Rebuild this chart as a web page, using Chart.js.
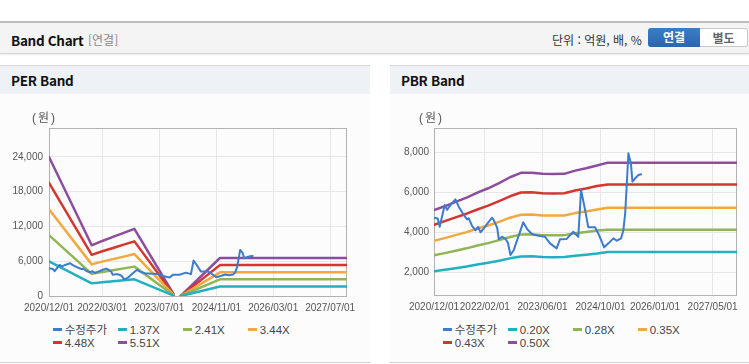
<!DOCTYPE html>
<html lang="ko">
<head>
<meta charset="utf-8">
<script src="https://cdn.jsdelivr.net/npm/chart.js@4.4.1/dist/chart.umd.min.js"></script>
<style>
body { margin: 0; width: 749px; height: 364px; background: #fff; position: relative; overflow: hidden;
  font-family: "Liberation Sans", "Noto Sans CJK KR", sans-serif; }
.topbar { position: absolute; left: 0; top: 21px; width: 749px; height: 30px; background: #f4f4f4;
  border-top: 2px solid #bdbdbd; border-bottom: 1px solid #d4d4d4; box-shadow: 0 1px 2px rgba(0,0,0,.08); }
.topbar .ttl { position: absolute; left: 11px; top: 7px; font: bold 13.5px "Noto Sans CJK KR", sans-serif; color: #111; letter-spacing: -0.3px; }
.topbar .sub { position: absolute; left: 88px; top: 8px; font: 12px "Noto Sans CJK KR", sans-serif; color: #8a8a8a; }
.topbar .unit { position: absolute; left: 552px; top: 8px; font: 12px "Noto Sans CJK KR", sans-serif; color: #333; }
.btn { position: absolute; top: 5px; height: 19px; line-height: 19px; text-align: center; font: bold 12px "Noto Sans CJK KR", sans-serif; box-sizing: border-box; }
.btn.on { left: 648px; width: 52px; color: #fff; background: linear-gradient(#3b7dc8, #2a66ad); border-radius: 3px 0 0 3px; }
.btn.off { left: 700px; width: 48px; color: #666; background: #fff; border: 1px solid #c9c9c9; border-left: none; border-radius: 0 3px 3px 0; line-height: 17px; }
.panel { position: absolute; top: 65px; height: 296px; background: #fcfcfc; border-top: 1px solid #d9d9d9; border-bottom: 1px solid #d0d0d0; }
.panel .hd { height: 28px; background: #eef1f6; font: bold 13.5px "Noto Sans CJK KR", sans-serif; color: #111; line-height: 28px; padding-left: 11px; letter-spacing: -0.3px; }
.unitlbl { position: absolute; top: 108px; z-index: 3; font: 12px "Liberation Sans", "Noto Sans CJK KR", sans-serif; color: #555; letter-spacing: 2px; white-space: nowrap; }
canvas.c { position: absolute; top: 100px; z-index: 1; }
.legend { position: absolute; top: 324px; height: 28px; font: 11.5px "Liberation Sans", "Noto Sans CJK KR", sans-serif; color: #444; }
.legend .it { position: absolute; white-space: nowrap; height: 13px; line-height: 13px; }
.legend .mk { display: inline-block; width: 9px; height: 3px; vertical-align: middle; margin-right: 3px; position: relative; top: -1px; }
</style>
</head>
<body>
<div class="topbar">
  <span class="ttl">Band Chart</span><span class="sub">[연결]</span>
  <span class="unit">단위 : 억원, 배, %</span>
  <div class="btn on">연결</div><div class="btn off">별도</div>
</div>
<div class="panel" style="left:0;width:370px;"><div class="hd">PER Band</div></div>
<div class="panel" style="left:390px;width:359px;"><div class="hd">PBR Band</div></div>
<div class="unitlbl" style="left:32px;">(원)</div>
<div class="unitlbl" style="left:419px;">(원)</div>
<canvas class="c" id="perChart" width="370" height="220" style="left:0;"></canvas>
<canvas class="c" id="pbrChart" width="359" height="220" style="left:390px;"></canvas>
<div class="legend" id="perLegend" style="left:0;width:370px;"></div>
<div class="legend" id="pbrLegend" style="left:390px;width:359px;"></div>
<script>
// --- 데이터 ---
const baseDate = '2020-12-01';
const endDate = '2027-11-22';

const priceDates = ['2020-12-01','2021-01-01','2021-01-18','2021-02-06','2021-03-01','2021-03-21','2021-04-18','2021-05-30',
  '2021-06-27','2021-08-08','2021-09-05','2021-09-19','2021-10-17','2021-11-15','2021-12-07','2021-12-27',
  '2022-01-24','2022-03-07','2022-04-04','2022-04-18','2022-05-16','2022-05-30','2022-06-27','2022-07-25',
  '2022-08-14','2022-09-05','2022-10-03','2022-11-15','2022-12-21','2023-01-24','2023-03-07','2023-03-29',
  '2023-05-10','2023-06-22','2023-08-03','2023-09-28','2023-10-26','2023-12-21','2024-02-15','2024-03-28',
  '2024-04-20','2024-05-24','2024-06-20','2024-08-16','2024-09-13','2024-10-05','2024-10-31','2024-12-06',
  '2025-01-17','2025-02-15','2025-03-23','2025-04-11','2025-04-26','2025-05-10','2025-05-23','2025-06-13',
  '2025-06-26','2025-07-19','2025-08-16','2025-09-07'];
const priceValues = [4730,4690,4280,4780,5360,5120,5360,5650,
  5280,4870,4650,4700,4320,4100,4270,4000,
  4200,4530,4730,4600,4230,3650,3780,3670,
  3480,2870,3120,3870,4500,4150,3900,3870,
  3820,3780,3450,3200,3650,3670,4030,3780,
  6120,5120,4250,4250,3930,3620,3250,3450,
  3700,3580,3700,4120,4950,6450,7950,7450,
  6530,6700,6860,6900];

// PER 밴드
const perBandDates = ['2020-12-01','2021-12-01','2022-03-01','2022-06-01','2022-09-01','2022-12-01',
  '2023-11-01','2023-12-01','2024-01-01','2024-12-01','2027-11-22'];
const perLabels = ['1.37X','2.41X','3.44X','4.48X','5.51X'];
const per137 = [5970,2180,2360,2540,2710,2880,75,null,0,1630,1630];
const per241 = [10500,3830,4150,4460,4770,5070,130,null,0,2870,2870];
const per344 = [14980,5460,5930,6370,6800,7240,190,null,0,4090,4090];
const per448 = [19520,7110,7720,8290,8860,9430,245,null,0,5330,5330];
const per551 = [24000,8750,9500,10200,10900,11600,300,null,0,6560,6560];
const perYTicks = [0,6000,12000,18000,24000];
const perXTicks = ['2020-12-01','2022-03-01','2023-07-01','2024-11-01','2026-03-01','2027-07-01'];

// PBR 밴드
const pbrBandDates = ['2020-12-01','2021-03-01','2021-06-01','2021-09-01','2021-12-01','2022-03-01','2022-06-01',
  '2022-09-01','2022-12-01','2023-03-01','2023-06-01','2023-09-01','2023-12-01','2024-03-01','2024-06-01',
  '2024-09-01','2024-12-01','2027-11-22'];
const pbrLabels = ['0.20X','0.28X','0.35X','0.43X','0.50X'];
const pbr020 = [2060,2130,2210,2290,2390,2480,2580,2700,2790,2800,2770,2760,2770,2830,2880,2940,3020,3020];
const pbr028 = [2850,2960,3080,3200,3340,3460,3610,3770,3890,3900,3860,3860,3860,3950,4020,4090,4130,4130];
const pbr035 = [3580,3710,3860,4010,4190,4340,4520,4730,4880,4890,4840,4840,4840,4960,5040,5140,5230,5230];
const pbr043 = [4380,4560,4750,4930,5140,5330,5560,5800,5990,6000,5950,5940,5950,6090,6190,6310,6390,6390];
const pbr050 = [5115,5300,5520,5730,5980,6200,6460,6750,6970,6980,6920,6910,6920,7080,7200,7340,7480,7480];
const pbrYTicks = [2000,4000,6000,8000];
const pbrXTicks = ['2020-12-01','2022-02-01','2023-06-01','2024-10-01','2026-01-01','2027-05-01'];

const priceLabel = '수정주가';
const priceColor = '#3d7ccc';
const bandColors = ['#22b0c1', '#91b556', '#f1a93d', '#d2362f', '#8d4d9f'];

// --- 유틸 ---
const toDay = (s) => {
  const [y, m, d] = s.split('-').map(Number);
  const [by, bm, bd] = baseDate.split('-').map(Number);
  return Math.round((Date.UTC(y, m - 1, d) - Date.UTC(by, bm - 1, bd)) / 864e5);
};
const fmtDay = (v) => {
  const [by, bm, bd] = baseDate.split('-').map(Number);
  const d = new Date(Date.UTC(by, bm - 1, bd) + v * 864e5);
  const p = (n) => String(n).padStart(2, '0');
  return `${d.getUTCFullYear()}/${p(d.getUTCMonth() + 1)}/${p(d.getUTCDate())}`;
};
const toPoints = (dates, vals) => dates.map((d, i) => ({ x: toDay(d), y: vals[i] }));

Chart.defaults.font.family = '"Liberation Sans", "Noto Sans CJK KR", sans-serif';
Chart.defaults.font.size = 10;
Chart.defaults.color = '#555';

// 플롯 테두리
const framePlugin = {
  id: 'frame',
  beforeDatasetsDraw(chart) {
    const { ctx, chartArea: a } = chart;
    ctx.save();
    ctx.strokeStyle = '#b2b2b2';
    ctx.lineWidth = 1;
    ctx.strokeRect(Math.round(a.left) + 0.5, Math.round(a.top) + 0.5, Math.round(a.right - a.left) - 1, Math.round(a.bottom - a.top));
    ctx.restore();
  }
};

function makeBandChart(id, cfg) {
  const datasets = [{
    label: priceLabel, data: toPoints(priceDates, priceValues),
    borderColor: priceColor, backgroundColor: priceColor, borderWidth: 2
  }];
  cfg.bands.forEach((vals, i) => {
    datasets.push({
      label: cfg.labels[i], data: toPoints(cfg.bandDates, vals),
      borderColor: bandColors[i], backgroundColor: bandColors[i], borderWidth: 2.5
    });
  });

  const chart = new Chart(document.getElementById(id), {
    type: 'line',
    data: { datasets },
    options: {
      responsive: false,
      animation: false,
      spanGaps: false,
      elements: { point: { radius: 0 }, line: { tension: 0, borderCapStyle: 'round', borderJoinStyle: 'round' } },
      layout: { padding: { top: 28, right: cfg.padRight, left: 0, bottom: 0 } },
      plugins: { legend: { display: false }, tooltip: { enabled: false } },
      scales: {
        x: {
          type: 'linear', min: 0, max: toDay(endDate),
          grid: { color: '#e7e7e7', drawTicks: false },
          border: { display: false },
          afterBuildTicks: (s) => { s.ticks = cfg.xTicks.map(d => ({ value: toDay(d) })); },
          afterFit: (s) => { s.height = cfg.xHeight; },
          ticks: { autoSkip: false, maxRotation: 0, padding: 6, color: '#555', callback: (v) => fmtDay(v) }
        },
        y: {
          min: cfg.yMin, max: cfg.yMax,
          grid: { color: '#e7e7e7', drawTicks: false },
          border: { display: false },
          afterBuildTicks: (s) => { s.ticks = cfg.yTicks.map(v => ({ value: v })); },
          afterFit: (s) => { s.width = cfg.yWidth; },
          ticks: { padding: cfg.yPad, color: '#555', callback: (v) => v.toLocaleString('en-US') }
        }
      }
    },
    plugins: [framePlugin]
  });

  // 범례
  const legend = document.getElementById(cfg.legendId);
  chart.data.datasets.forEach((ds, i) => {
    const it = document.createElement('div');
    it.className = 'it';
    it.style.left = (52.7 + (i % 4) * 65) + 'px';
    it.style.top = (Math.floor(i / 4) * 13) + 'px';
    it.innerHTML = `<span class="mk" style="background:${ds.borderColor}"></span>${ds.label}`;
    legend.appendChild(it);
  });
  return chart;
}

makeBandChart('perChart', {
  bandDates: perBandDates, labels: perLabels,
  bands: [per137, per241, per344, per448, per551],
  xTicks: perXTicks, yTicks: perYTicks, yMin: 0, yMax: 29000,
  yWidth: 49, yPad: 6, padRight: 23, xHeight: 24, legendId: 'perLegend'
});

makeBandChart('pbrChart', {
  bandDates: pbrBandDates, labels: pbrLabels,
  bands: [pbr020, pbr028, pbr035, pbr043, pbr050],
  xTicks: pbrXTicks, yTicks: pbrYTicks, yMin: 870, yMax: 9210,
  yWidth: 44, yPad: 5, padRight: 12, xHeight: 25, legendId: 'pbrLegend'
});
</script>
</body>
</html>
